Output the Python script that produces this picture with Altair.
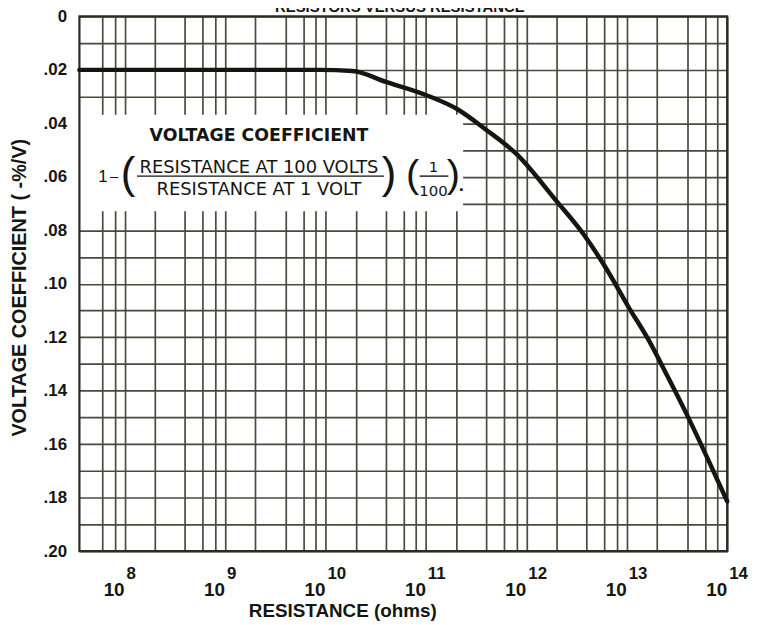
import altair as alt
import pandas as pd

# ---- data ----
resistance = [3.55e7, 1e8, 1e9, 5e9, 8.8e9, 1.86e10, 4.0e10, 1.0e11, 2.1e11, 3.85e11,
              8.1e11, 2.0e12, 3.7e12, 6.2e12, 1.05e13, 1.66e13, 2.57e13, 4.07e13,
              6.46e13, 1.0e14]
coefficient = [0.020, 0.020, 0.020, 0.020, 0.020, 0.0204, 0.0245, 0.0294, 0.0349, 0.0420,
               0.0517, 0.0691, 0.0814, 0.0941, 0.1089, 0.1212, 0.1349, 0.1498,
               0.1658, 0.1814]

decade_values = [1e8, 1e9, 1e10, 1e11, 1e12, 1e13, 1e14]
decade_exponents = ["8", "9", "10", "11", "12", "13", "14"]

grid_x = [6e7, 8e7] + [m * 10 ** e for e in range(8, 14) for m in (1, 2, 4, 6, 8)] + [1e14]
grid_y = [0, 0.01, 0.02, 0.03, 0.04, 0.05, 0.06, 0.07, 0.08, 0.09, 0.10,
          0.11, 0.12, 0.13, 0.14, 0.15, 0.16, 0.17, 0.18, 0.19, 0.20]

box_left, box_right = 3.55e7, 2.35e11
box_top, box_bottom = 0.0368, 0.0729

chart_title = "RESISTORS VERSUS RESISTANCE"
x_title = "RESISTANCE (ohms)"
y_title = "VOLTAGE COEFFICIENT ( -%/V)"
box_heading = "VOLTAGE COEFFICIENT"
numerator = "RESISTANCE AT 100 VOLTS"
denominator = "RESISTANCE AT 1 VOLT"

# ---- layout ----
W, H = 653, 539
INK = "#151512"
GRID = "#4a4a40"
LBL_FONT = "Liberation Sans"
BOX_FONT = "DejaVu Sans"

xscale = alt.Scale(type="log", domain=[3.55e7, 1e14], nice=False)
yscale = alt.Scale(domain=[0, 0.20], reverse=True, nice=False)

curve_df = pd.DataFrame({"R": resistance, "VC": coefficient})
box_df = pd.DataFrame({"R": [box_left], "R2": [box_right], "VC": [box_top], "VC2": [box_bottom]})
ticks_df = pd.DataFrame({"R": decade_values, "exp": decade_exponents,
                         "base": ["10"] * len(decade_values)})

y_label_expr = ("round(datum.value*100) % 2 == 1 ? '' : "
                "(datum.value == 0 ? '0' : replace(format(datum.value, '.2f'), '0.', '.'))")

x_axis = alt.Axis(values=grid_x, labels=False, ticks=False, domain=False,
                  grid=True, gridColor=GRID, gridWidth=1.7, gridOpacity=1,
                  titleFont=LBL_FONT, titleFontSize=19, titleFontWeight="bold",
                  titleColor=INK, titleX=265, titleY=66, titleAlign="center",
                  titleBaseline="alphabetic")
y_axis = alt.Axis(values=grid_y, labelExpr=y_label_expr, ticks=False, domain=False,
                  grid=True, gridColor=GRID, gridWidth=1.7, gridOpacity=1,
                  labelFont=LBL_FONT, labelFontSize=17, labelFontWeight="bold",
                  labelColor=INK, labelPadding=13,
                  titleFont=LBL_FONT, titleFontSize=20, titleFontWeight="bold",
                  titleColor=INK, titleX=-60, titleY=273, titleAngle=270,
                  titleAlign="center", titleBaseline="middle")

X = alt.X("R:Q", scale=xscale, title=x_title, axis=x_axis)
Y = alt.Y("VC:Q", scale=yscale, title=y_title, axis=y_axis)

box = alt.Chart(box_df).mark_rect(fill="white").encode(x=X, x2="R2:Q", y=Y, y2="VC2:Q")

line = alt.Chart(curve_df).mark_line(
    color=INK, strokeWidth=4.5, interpolate="monotone", strokeCap="round"
).encode(x=X, y=Y)

frame = alt.Chart(box_df).mark_rect(fillOpacity=0, stroke="#2c2c25", strokeWidth=2.2).encode(
    x=alt.value(0), x2=alt.value(W), y=alt.value(0), y2=alt.value(H)
)

base_lbl = alt.Chart(ticks_df).mark_text(
    align="right", baseline="alphabetic", dx=0, font=LBL_FONT, fontSize=19,
    fontWeight="bold", color=INK
).encode(x=X, y=alt.value(584), text="base:N")

exp_lbl = alt.Chart(ticks_df).mark_text(
    align="left", baseline="alphabetic", dx=2, font=LBL_FONT, fontSize=17,
    fontWeight="bold", color=INK
).encode(x=X, y=alt.value(567), text="exp:N")


def txt(s, x, y, size, weight="normal", font=BOX_FONT, align="center", baseline="alphabetic"):
    return alt.Chart(box_df).mark_text(
        align=align, baseline=baseline, font=font, fontSize=size, fontWeight=weight, color=INK
    ).encode(x=alt.value(x), y=alt.value(y), text=alt.value(s))


def hrule(x1, x2, y):
    return alt.Chart(box_df).mark_rule(color=INK, strokeWidth=1.4).encode(
        x=alt.value(x1), x2=alt.value(x2), y=alt.value(y)
    )


annotation = [
    txt(chart_title, 323, -4, 15, "bold", font=LBL_FONT),
    txt(box_heading, 181, 126, 17.5, "bold"),
    txt("1", 19, 167, 17, font=LBL_FONT, align="left"),
    txt("–", 35, 161, 15, font=LBL_FONT, baseline="middle"),
    txt("(", 49, 160, 44, font=LBL_FONT, baseline="middle"),
    txt(numerator, 181, 158, 18),
    hrule(58, 307, 161),
    txt(denominator, 181, 180, 18),
    txt(")", 312, 160, 44, font=LBL_FONT, baseline="middle"),
    txt("(", 336, 160, 40, font=LBL_FONT, baseline="middle"),
    txt("1", 357, 157, 15),
    hrule(343, 372, 161),
    txt("100", 357, 181, 15),
    txt(")", 377, 160, 40, font=LBL_FONT, baseline="middle"),
    txt(".", 385, 176, 15, "bold"),
]

chart = alt.layer(box, frame, line, base_lbl, exp_lbl, *annotation).properties(
    width=W, height=H,
    padding={"left": 72, "top": 6, "right": 22, "bottom": 68},
    autosize=alt.AutoSizeParams(type="none"),
    background="white",
).configure_view(stroke=None)

chart.save("out.html", embed_options={"renderer": "svg", "actions": False})
